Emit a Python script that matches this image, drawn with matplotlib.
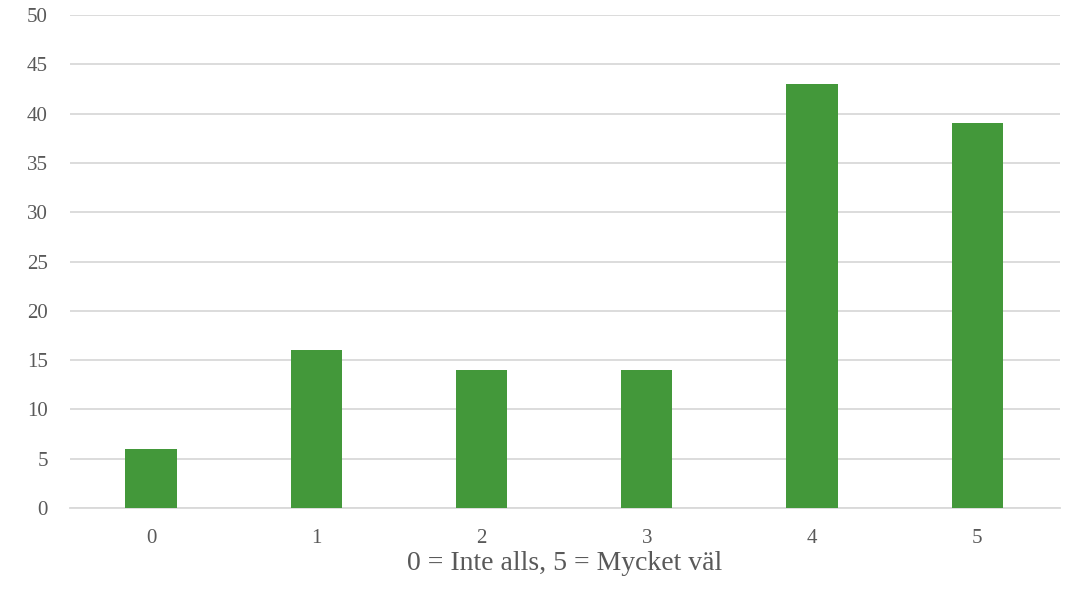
import numpy as np
import matplotlib.pyplot as plt

categories = ['0', '1', '2', '3', '4', '5']
values = [6, 16, 14, 14, 43, 39]
yticks = [0, 5, 10, 15, 20, 25, 30, 35, 40, 45, 50]

plt.rcParams['font.family'] = ['Liberation Serif', 'DejaVu Serif']

fig = plt.figure(figsize=(10.69, 5.93), dpi=100)
ax = fig.add_axes([0.0655, 0.1433, 0.926, 0.8314])

x = np.arange(len(categories))
ax.bar(x, values, width=0.31, color='#43983A', zorder=3)

ax.set_xlim(-0.49, 5.5)
ax.set_ylim(0, 50)
ax.set_yticks(yticks)
ax.set_xticks(x)
ax.set_xticklabels(categories)
ax.yaxis.grid(True, color='#D9D9D9', linewidth=1.3, zorder=0)
ax.set_axisbelow(True)
for s in ['top', 'right', 'left']:
    ax.spines[s].set_visible(False)
ax.spines['bottom'].set_color('#D9D9D9')
ax.spines['bottom'].set_linewidth(1.3)
ax.tick_params(axis='both', length=0, labelsize=15, colors='#595959')
ax.tick_params(axis='y', pad=16)
ax.tick_params(axis='x', pad=15)
ax.set_xlabel('0 = Inte alls, 5 = Mycket väl', fontsize=20, color='#595959', labelpad=2)

fig.savefig('out.png', dpi=100)
